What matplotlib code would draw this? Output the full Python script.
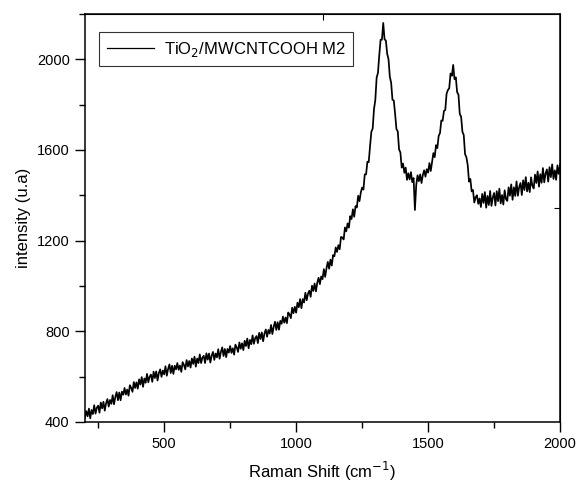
import numpy as np
import matplotlib.pyplot as plt
from matplotlib.ticker import MultipleLocator

plt.rcParams['font.family'] = ['Liberation Sans', 'DejaVu Sans']

# Raman shift grid (cm-1): 200 to 2000 in steps of 5
shift_start = 200
shift_stop = 2000
shift_step = 5

# intensity, one value per grid point (10 per row = 50 cm-1)
intensity = [
    420, 448, 425, 459, 416, 453, 435, 474, 437, 463,
    472, 441, 486, 460, 489, 450, 483, 501, 468, 497,
    480, 518, 478, 510, 532, 496, 530, 496, 534, 520,
    550, 521, 543, 516, 562, 551, 533, 576, 550, 575,
    547, 588, 565, 598, 555, 592, 573, 612, 575, 600,
    609, 577, 622, 594, 623, 583, 616, 632, 599, 627,
    610, 646, 604, 634, 654, 616, 648, 612, 648, 632,
    660, 630, 649, 621, 664, 652, 632, 673, 645, 669,
    640, 680, 656, 688, 644, 680, 660, 698, 660, 684,
    692, 660, 703, 675, 702, 662, 693, 709, 674, 702,
    685, 721, 679, 709, 729, 691, 722, 686, 722, 706,
    735, 705, 725, 697, 741, 729, 709, 751, 723, 747,
    717, 758, 735, 768, 725, 762, 743, 782, 745, 770,
    779, 748, 793, 766, 795, 756, 790, 808, 776, 806,
    790, 828, 788, 820, 842, 806, 840, 807, 846, 833,
    865, 838, 861, 836, 883, 874, 858, 904, 880, 908,
    882, 926, 906, 942, 902, 942, 927, 970, 937, 966,
    979, 952, 1001, 978, 1011, 976, 1014, 1036, 1008, 1042,
    1030, 1074, 1040, 1078, 1106, 1076, 1116, 1090, 1136, 1131,
    1170, 1150, 1180, 1162, 1216, 1214, 1205, 1258, 1241, 1276,
    1257, 1308, 1295, 1338, 1305, 1352, 1346, 1398, 1374, 1412,
    1434, 1425, 1492, 1492, 1548, 1546, 1616, 1680, 1694, 1780,
    1820, 1919, 1940, 2018, 2086, 2086, 2160, 2088, 2082, 2024,
    2000, 1923, 1896, 1821, 1818, 1759, 1692, 1682, 1602, 1589,
    1522, 1540, 1499, 1522, 1468, 1497, 1470, 1502, 1458, 1476,
    1335, 1445, 1488, 1462, 1492, 1454, 1489, 1510, 1482, 1515,
    1500, 1542, 1507, 1548, 1586, 1568, 1621, 1608, 1662, 1674,
    1730, 1728, 1772, 1776, 1848, 1864, 1872, 1937, 1927, 1975,
    1912, 1920, 1854, 1844, 1758, 1747, 1680, 1666, 1581, 1568,
    1534, 1460, 1472, 1417, 1423, 1368, 1391, 1400, 1362, 1386,
    1348, 1406, 1366, 1414, 1345, 1397, 1357, 1419, 1353, 1390,
    1410, 1355, 1418, 1374, 1429, 1364, 1401, 1359, 1422, 1383,
    1375, 1435, 1398, 1448, 1380, 1435, 1397, 1461, 1398, 1436,
    1454, 1401, 1466, 1423, 1480, 1417, 1455, 1414, 1479, 1442,
    1430, 1491, 1454, 1505, 1438, 1493, 1455, 1520, 1457, 1496,
    1514, 1460, 1524, 1480, 1536, 1472, 1510, 1468, 1532, 1494,
    1535,
]
series_label = r'TiO$_2$/MWCNTCOOH M2'

shift = np.arange(shift_start, shift_stop + 1, shift_step)

fig = plt.figure(figsize=(5.78, 4.87), dpi=100)
ax = fig.add_axes([0.147, 0.1335, 0.822, 0.838])

ax.plot(shift, intensity, color='black', lw=1.25, label=series_label)

ax.set_xlim(200, 2000)
ax.set_ylim(400, 2200)
ax.xaxis.set_major_locator(MultipleLocator(500))
ax.xaxis.set_minor_locator(MultipleLocator(250))
ax.yaxis.set_major_locator(MultipleLocator(400))
ax.yaxis.set_minor_locator(MultipleLocator(200))

ax.tick_params(which='both', direction='out', width=1, labelsize=10.5, pad=4)
ax.tick_params(which='major', length=7)
ax.tick_params(which='minor', length=4)
for s in ax.spines.values():
    s.set_linewidth(1.1)

ax.set_xlabel('Raman Shift (cm$^{-1}$)', fontsize=12, labelpad=6)
ax.set_ylabel('intensity (u.a)', fontsize=12, labelpad=4)

# stray ticks on the top and right frame
top = ax.secondary_xaxis('top')
top.set_xticks([1100])
top.tick_params(direction='in', length=4, labeltop=False)
right = ax.secondary_yaxis('right')
right.set_yticks([1346])
right.tick_params(direction='in', length=4, labelright=False)

leg = ax.legend(loc='upper left', bbox_to_anchor=(0.013, 0.975), fontsize=12,
                frameon=True, fancybox=False, edgecolor='black', handlelength=2.8,
                borderpad=0.45, handletextpad=0.6)
leg.get_frame().set_linewidth(0.8)
leg.legend_handles[0].set_linewidth(0.9)

fig.savefig('out.png', dpi=100)
